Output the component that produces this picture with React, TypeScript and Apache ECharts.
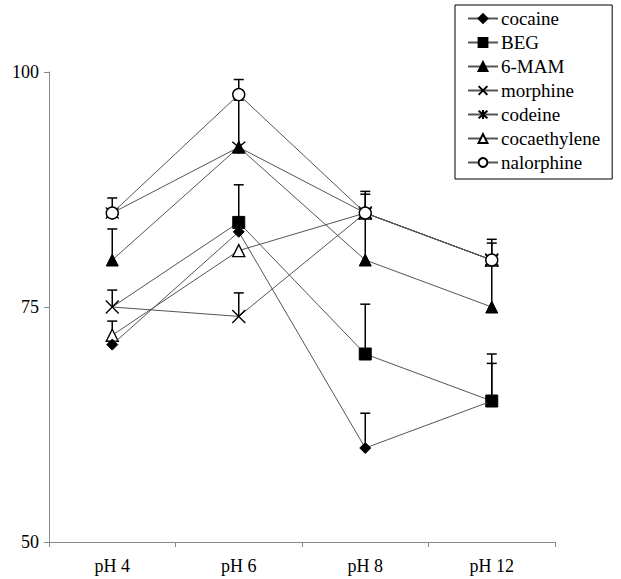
import React, { useEffect, useRef } from "react";
import * as echarts from "echarts";

const categories = ["pH 4", "pH 6", "pH 8", "pH 12"];
const yTicks = [50, 75, 100];

const seriesNames = ["cocaine", "BEG", "6-MAM", "morphine", "codeine", "cocaethylene", "nalorphine"];

const cocaine = [71, 83, 60, 65];
const beg = [75, 84, 70, 65];
const mam = [80, 92, 80, 75];
const morphine = [75, 74, 85, 80];
const codeine = [85, 92, 85, 80];
const cocaethylene = [72, 81, 85, 80];
const nalorphine = [85, 97.6, 85, 80];

// upper ends of the error bars (null = none visible)
const cocaineUp = [null, null, 63.7, 69];
const begUp = [null, 88, 75.3, 70];
const mamUp = [83.3, null, 85, 80];
const morphineUp = [76.8, 76.5, 87, 81.8];
const codeineUp = [null, 97, null, null];
const cocaethyleneUp = [73.5, null, null, null];
const nalorphineUp = [86.6, 99.2, 87.3, 82.2];

// points whose marker is covered in the original (BEG at pH 4 lies under the morphine cross)
const hiddenMarkers: Record<string, number[]> = { BEG: [0] };

const X_PATH = "path://M0,0 L10,10 M10,0 L0,10";
const STAR_PATH = "path://M0,0 L10,10 M10,0 L0,10 M5,-1 L5,11";

const FONT = "Liberation Serif";

export default function App() {
  const ref = useRef<HTMLDivElement>(null);
  useEffect(() => {
    if (!ref.current) return;
    const chart = echarts.init(ref.current, null, { renderer: "svg" });

    const values = [cocaine, beg, mam, morphine, codeine, cocaethylene, nalorphine];
    const uppers = [cocaineUp, begUp, mamUp, morphineUp, codeineUp, cocaethyleneUp, nalorphineUp];
    const symbols = ["diamond", "rect", "triangle", X_PATH, STAR_PATH, "triangle", "circle"];
    const sizes = [11, 12, 12, 13, 13, 12, 12];
    const filled = [true, true, true, false, false, false, false];
    const zs = [5, 3, 3, 3, 3, 3, 4];

    const errData: any[] = [];
    values.forEach((vals, s) => {
      vals.forEach((v, i) => {
        const u = uppers[s][i];
        if (u != null) errData.push([i, v, u]);
      });
    });

    const lineSeries = values.map((vals, s) => {
      const hidden = hiddenMarkers[seriesNames[s]] || [];
      return {
        name: seriesNames[s],
        type: "line",
        data: vals.map((v, i) => (hidden.includes(i) ? { value: v, symbol: "none" } : v)),
        symbol: symbols[s],
        symbolSize: sizes[s],
        showAllSymbol: true,
        lineStyle: { color: "#555", width: 1 },
        itemStyle: filled[s]
          ? { color: "#000", borderColor: "#000", borderWidth: 1 }
          : { color: "#fff", borderColor: "#000", borderWidth: 1.4 },
        emphasis: { disabled: true },
        z: zs[s],
      };
    });

    const errSeries = {
      type: "custom",
      name: "err",
      data: errData,
      z: 2,
      renderItem: (params: any, api: any) => {
        const lo = api.coord([api.value(0), api.value(1)]);
        const hi = api.coord([api.value(0), api.value(2)]);
        return {
          type: "group",
          children: [
            {
              type: "line",
              shape: { x1: lo[0], y1: lo[1], x2: hi[0], y2: hi[1] },
              style: { stroke: "#000", lineWidth: 1.5 },
            },
            {
              type: "line",
              shape: { x1: hi[0] - 5, y1: hi[1], x2: hi[0] + 5, y2: hi[1] },
              style: { stroke: "#000", lineWidth: 1.5 },
            },
          ],
        };
      },
    };

    chart.setOption({
      animation: false,
      textStyle: { fontFamily: FONT },
      grid: { left: 49, right: 66, top: 72, bottom: 37, containLabel: false },
      legend: {
        data: seriesNames,
        orient: "vertical",
        left: 455,
        top: 5,
        itemWidth: 30,
        itemHeight: 11,
        itemGap: 5,
        padding: [4, 12, 7, 12],
        borderColor: "#000",
        borderWidth: 1,
        backgroundColor: "#fff",
        selectedMode: false,
        textStyle: { fontFamily: FONT, fontSize: 19, color: "#000", padding: [0, 0, 0, -2] },
      },
      xAxis: {
        type: "category",
        data: categories,
        boundaryGap: true,
        axisLine: { lineStyle: { color: "#888", width: 1 } },
        axisTick: { show: true, length: 5, lineStyle: { color: "#888" } },
        axisLabel: { fontFamily: FONT, fontSize: 18, color: "#000", margin: 15 },
        splitLine: { show: false },
      },
      yAxis: {
        type: "value",
        min: yTicks[0],
        max: yTicks[yTicks.length - 1],
        interval: 25,
        axisLine: { show: true, lineStyle: { color: "#888", width: 1 } },
        axisTick: { show: true, length: 5, lineStyle: { color: "#888" } },
        axisLabel: { fontFamily: FONT, fontSize: 18, color: "#000", margin: 10 },
        splitLine: { show: false },
      },
      series: [errSeries, ...lineSeries],
    });
    return () => chart.dispose();
  }, []);
  return (
    <div
      ref={ref}
      style={{ position: "absolute", left: 0, top: 0, width: 621, height: 579, background: "#fff" }}
    />
  );
}
